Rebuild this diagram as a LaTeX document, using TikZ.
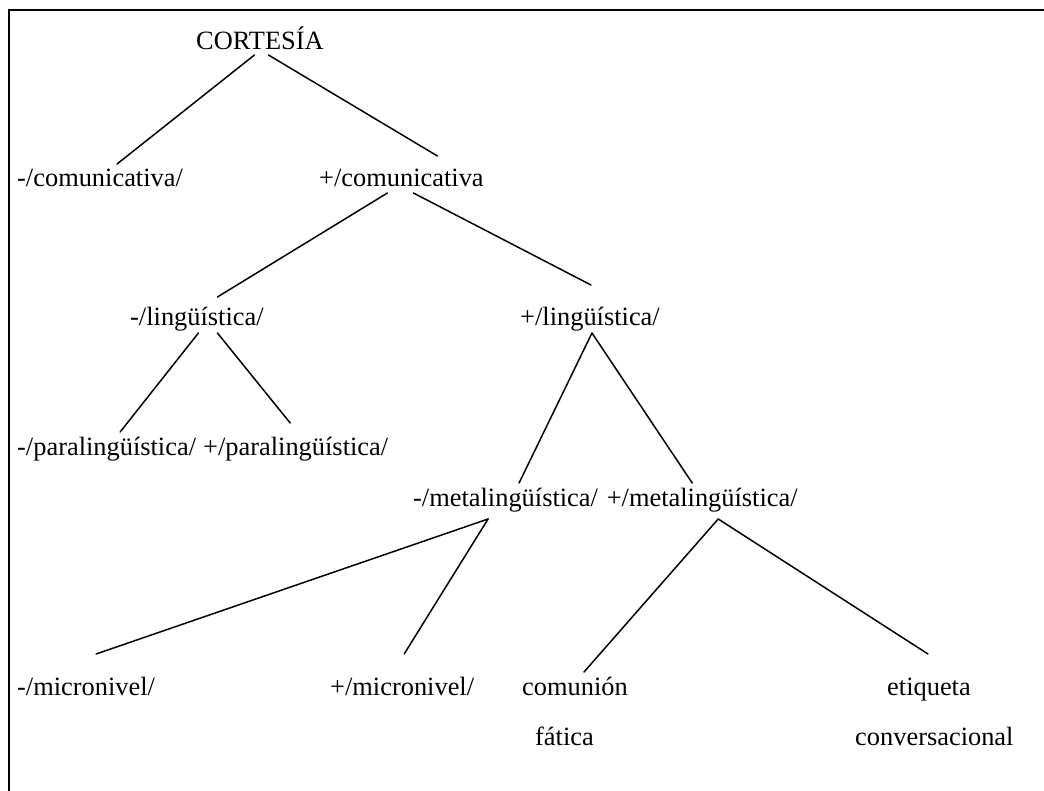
\documentclass[tikz,border=0pt]{standalone}
\usepackage{fontspec}
\setmainfont{Liberation Serif}
\usetikzlibrary{calc}
\begin{document}
\begin{tikzpicture}[x=1pt,y=-1pt,
  term/.style={anchor=base west, inner sep=0pt, font=\fontsize{26.4}{30}\selectfont},
  branch/.style={line width=1.5pt, line cap=round},
  frame/.style={line width=2.2pt}]
\useasboundingbox (0,0) rectangle (1044,791);
% open frame: left and top edges
\draw[frame] (9,791) -- (9,10) -- (1044,10);

% terms of the tree
\node[term] (cort)  at (196,50)    {CORTESÍA};
\node[term] (ncom)  at (17,187)    {-/comunicativa/};
\node[term] (pcom)  at (319,187)   {+/comunicativa};
\node[term] (nling) at (130,326)   {-/lingüística/};
\node[term] (pling) at (520,326)   {+/lingüística/};
\node[term] (npara) at (17,455)    {-/paralingüística/};
\node[term] (ppara) at (203,455)   {+/paralingüística/};
\node[term] (nmeta) at (413,506)   {-/metalingüística/};
\node[term] (pmeta) at (606.6,506) {+/metalingüística/};
\node[term] (nmic)  at (17,695)    {-/micronivel/};
\node[term] (pmic)  at (330,695)   {+/micronivel/};
\node[term] (comu)  at (522,695)   {comunión};
\node[term] (fati)  at (535,745)   {fática};
\node[term] (etiq)  at (887,695)   {etiqueta};
\node[term] (conv)  at (855,745)   {conversacional};

% branches
\draw[branch] ($(cort.base)+(-5.5,5)$) -- ($(ncom.base)+(17,-23)$);
\draw[branch] ($(cort.base)+(8.5,5)$)  -- ($(pcom.base)+(36,-31)$);
\draw[branch] ($(pcom.base)+(-14,6)$)  -- ($(nling.base)+(20.5,-29)$);
\draw[branch] ($(pcom.base)+(12,6)$)   -- ($(pling.base)+(1,-41)$);
\draw[branch] ($(nling.base)+(1.5,7)$) -- ($(npara.base)+(13.5,-23)$);
\draw[branch] ($(nling.base)+(20.5,7)$) -- ($(ppara.base)+(-5.5,-32)$);
\draw[branch] ($(pling.base)+(2,7)$)   -- ($(nmeta.base)+(13.5,-23)$);
\draw[branch] ($(pling.base)+(2,7)$)   -- ($(pmeta.base)+(-10,-23)$);
\draw[branch] ($(nmeta.base)+(-17.5,13)$) -- ($(nmic.base)+(10,-41)$);
\draw[branch] ($(nmeta.base)+(-17.5,13)$) -- ($(pmic.base)+(2,-41)$);
\draw[branch] ($(pmeta.base)+(16,13)$) -- ($(comu.base)+(9,-23)$);
\draw[branch] ($(pmeta.base)+(16,13)$) -- ($(etiq.base)+(-1,-41)$);
\end{tikzpicture}
\end{document}
